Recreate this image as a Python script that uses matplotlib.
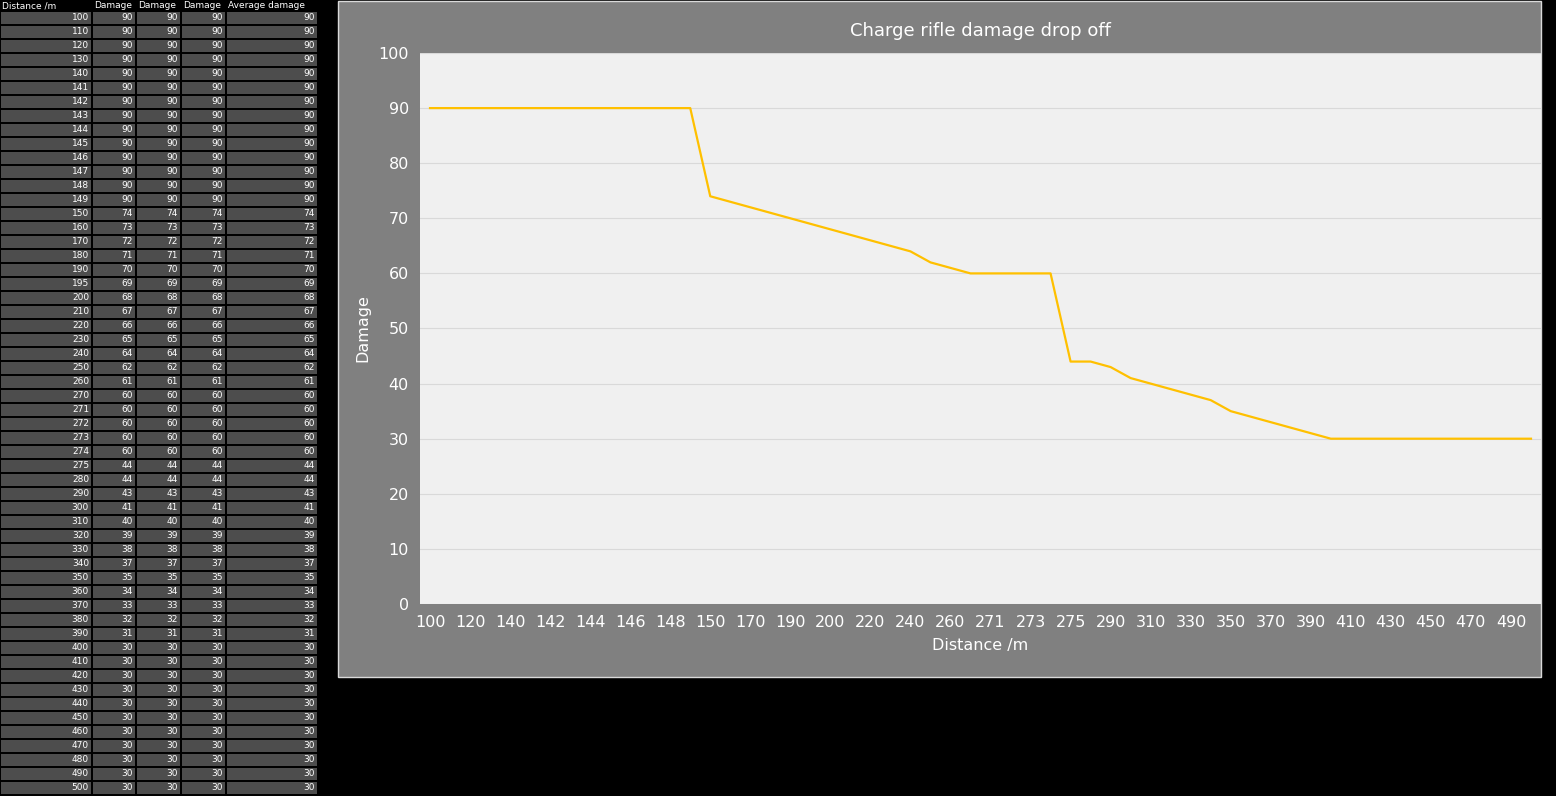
import matplotlib.pyplot as plt
from matplotlib.patches import Rectangle

distance = [100, 110, 120, 130, 140, 141, 142, 143, 144, 145, 146, 147, 148, 149,
            150, 160, 170, 180, 190, 195, 200, 210, 220, 230, 240, 250, 260, 270,
            271, 272, 273, 274, 275, 280, 290, 300, 310, 320, 330, 340, 350, 360,
            370, 380, 390, 400, 410, 420, 430, 440, 450, 460, 470, 480, 490, 500]
damage = [90] * 14 + [74, 73, 72, 71, 70, 69, 68, 67, 66, 65, 64, 62, 61, 60,
                      60, 60, 60, 60, 44, 44, 43, 41, 40, 39, 38, 37, 35, 34,
                      33, 32, 31] + [30] * 11
headers = ["Distance /m", "Damage", "Damage", "Damage", "Average damage"]

W, H = 1556, 796
fig = plt.figure(figsize=(W / 100, H / 100), dpi=100, facecolor="black")

# spreadsheet table on the left, drawn in pixel coordinates
tab = fig.add_axes([0, 0, 1, 1])
tab.set_xlim(0, W)
tab.set_ylim(H, 0)
tab.axis("off")
col_x = [0, 92, 136, 181, 226, 318]
row_h = 14.0
top = 11
for j, h in enumerate(headers):
    tab.text(col_x[j] + 2, top / 2 + 0.5, h, color="white", fontsize=6.5,
             va="center", ha="left", family="DejaVu Sans")
for i, (d, v) in enumerate(zip(distance, damage)):
    y0 = top + i * row_h
    row = [d, v, v, v, v]
    for j in range(5):
        tab.add_patch(Rectangle((col_x[j] + 1, y0 + 1), col_x[j + 1] - col_x[j] - 2,
                                row_h - 2, facecolor="#4d4d4d", edgecolor="none"))
        tab.text(col_x[j + 1] - 3, y0 + row_h / 2, str(row[j]), color="white",
                 fontsize=6.5, va="center", ha="right")

# chart panel
tab.add_patch(Rectangle((338.5, 0.5), 1203, 676, facecolor="#808080",
                        edgecolor="#d9d9d9", lw=1))

ax = fig.add_axes([420 / W, 1 - 604 / H, 1121 / W, 551 / H])
ax.set_facecolor("#f0f0f0")
idx = list(range(len(distance)))
ax.plot(idx, damage, color="#ffc000", lw=1.6)
ax.set_xlim(-0.5, len(distance) - 0.5)
ax.set_ylim(0, 100)
ax.set_yticks(range(0, 101, 10))
ax.set_xticks(idx[::2])
ax.set_xticklabels([str(d) for d in distance[::2]])
ax.grid(axis="y", color="#d9d9d9", lw=0.8)
ax.set_axisbelow(True)
for s in ax.spines.values():
    s.set_visible(False)
ax.tick_params(length=0, colors="white", labelsize=11.5, pad=8)
ax.set_title("Charge rifle damage drop off", color="white", fontsize=13, pad=12)
ax.set_xlabel("Distance /m", color="white", fontsize=11.5, labelpad=6)
ax.set_ylabel("Damage", color="white", fontsize=11.5, labelpad=6)

fig.savefig("out.png", dpi=100, facecolor="black")
